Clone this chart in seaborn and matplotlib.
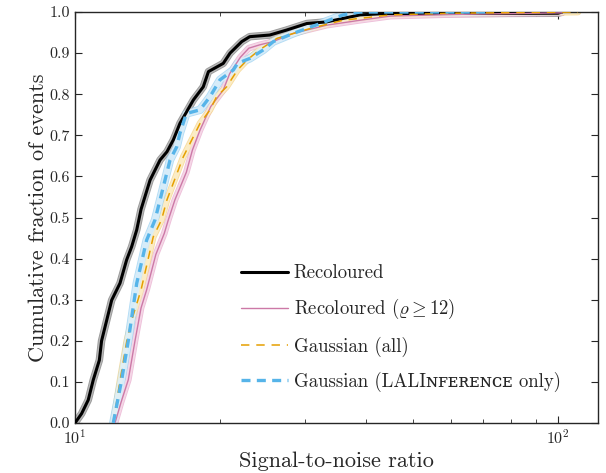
import numpy as np
import pandas as pd
import seaborn as sns
from matplotlib import pyplot as plt
from matplotlib.ticker import FormatStrFormatter, LogLocator, NullFormatter

# curves: SNR and cumulative fraction
snr_rec = [10.0, 10.32, 10.65, 10.91, 11.23, 11.35, 11.63, 11.91, 12.39, 12.79, 13.1, 13.42, 13.7,
           14.3, 15.0, 15.5, 15.98, 16.49, 17.58, 18.43, 18.89, 20.27, 20.94, 22.14, 23.0, 25.3,
           27.4, 30.2, 33.2, 38.9, 43.5, 100.0, 102.0]
cdf_rec = [0.0, 0.023, 0.056, 0.105, 0.153, 0.20, 0.25, 0.299, 0.34, 0.397, 0.429, 0.47, 0.52,
           0.591, 0.64, 0.66, 0.689, 0.729, 0.786, 0.818, 0.855, 0.875, 0.90, 0.928, 0.94, 0.944,
           0.956, 0.972, 0.976, 0.993, 0.996, 0.997, 1.0]

snr_rec12 = [12.1, 12.45, 12.89, 13.31, 13.7, 14.07, 14.7, 15.3, 15.6, 16.1, 17.0, 17.5, 18.15, 19.1,
             20.27, 20.9, 22.0, 22.9, 24.1, 25.7, 28.3, 33.2, 38.9, 45.0, 60.0, 102.0]
cdf_rec12 = [0.0, 0.05, 0.105, 0.20, 0.28, 0.324, 0.41, 0.461, 0.494, 0.543, 0.61, 0.664, 0.713,
             0.77, 0.81, 0.85, 0.89, 0.912, 0.92, 0.928, 0.948, 0.968, 0.98, 0.99, 0.994, 0.998]

snr_gauss = [12.0, 12.4, 12.8, 13.1, 13.7, 14.52, 15.1, 15.5, 16.76, 18.15, 19.03, 19.64, 20.6,
             21.7, 22.7, 24.1, 26.2, 30.7, 35.9, 45.0, 60.0, 110.0]
cdf_gauss = [0.0, 0.105, 0.20, 0.25, 0.324, 0.453, 0.494, 0.543, 0.648, 0.729, 0.762, 0.794, 0.818,
             0.859, 0.883, 0.908, 0.936, 0.96, 0.98, 0.993, 0.997, 1.0]

snr_lali = [12.0, 12.49, 12.89, 13.42, 14.07, 14.64, 15.0, 15.73, 16.24, 16.49, 17.0, 18.15,
            19.03, 19.96, 21.27, 21.7, 23.0, 24.55, 25.74, 28.3, 32.2, 35.9, 38.9, 71.0]
cdf_lali = [0.0, 0.105, 0.20, 0.34, 0.445, 0.494, 0.543, 0.64, 0.672, 0.705, 0.753, 0.762,
            0.794, 0.835, 0.859, 0.875, 0.887, 0.908, 0.928, 0.948, 0.972, 0.993, 1.0, 1.0]

labels = ['Recoloured', r'Recoloured ($\varrho \geq 12$)', 'Gaussian (all)',
          'Gaussian (LALIɴꜰᴇʀᴇɴᴄᴇ only)']

sns.set_style('ticks')
plt.rcParams['font.family'] = ['cmr10', 'DejaVu Serif', 'DejaVu Sans']
plt.rcParams['mathtext.fontset'] = 'cm'
plt.rcParams['axes.formatter.use_mathtext'] = True

fig = plt.figure(figsize=(6.06, 4.73), dpi=100)
ax = fig.add_axes([0.1238, 0.1057, 0.863, 0.8689])

series = [
    (snr_rec, cdf_rec, 'black', '-', 2.2, '#7f7f7f', '#bdbdbd', 5.4),
    (snr_rec12, cdf_rec12, '#CC79A7', '-', 1.0, '#e9b0d0', '#f7dcea', 4.8),
    (snr_gauss, cdf_gauss, '#E69F00', (0, (5.5, 4.5)), 1.1, '#f5d489', '#fcefcc', 4.8),
    (snr_lali, cdf_lali, '#56B4E9', (0, (2.7, 1.9)), 2.4, '#9fd3f2', '#ddf0fb', 6.0),
]

# uncertainty bands first, outlined
for snr, cdf, col, ls, lw, edge, fill, bw in series:
    df = pd.DataFrame({'snr': snr, 'cdf': cdf})
    sns.lineplot(data=df, x='snr', y='cdf', ax=ax, sort=False, estimator=None,
                 color=edge, lw=bw, alpha=0.8, solid_joinstyle='round', zorder=1)
    sns.lineplot(data=df, x='snr', y='cdf', ax=ax, sort=False, estimator=None,
                 color=fill, lw=bw - 1.2, alpha=0.85, solid_joinstyle='round', zorder=1.5)

for (snr, cdf, col, ls, lw, edge, fill, bw), lab in zip(series, labels):
    df = pd.DataFrame({'snr': snr, 'cdf': cdf})
    sns.lineplot(data=df, x='snr', y='cdf', ax=ax, sort=False, estimator=None,
                 color=col, lw=lw, linestyle=ls, label=lab, zorder=3)

ax.set_xscale('log')
ax.set_xlim(10, 121)
ax.set_ylim(0, 1.0)
ax.set_yticks(np.arange(0, 1.01, 0.1))
ax.yaxis.set_major_formatter(FormatStrFormatter('%.1f'))
ax.xaxis.set_minor_locator(LogLocator(base=10, subs=np.arange(2, 10)))
ax.xaxis.set_minor_formatter(NullFormatter())
ax.tick_params(which='both', direction='in', top=True, right=True, labelsize=11.5)
ax.tick_params(which='major', length=5, width=0.8)
ax.tick_params(which='minor', length=3, width=0.6)
for s in ax.spines.values():
    s.set_linewidth(1.0)

ax.set_xlabel('Signal-to-noise ratio', fontsize=16, labelpad=4)
ax.set_ylabel('Cumulative fraction of events', fontsize=16, labelpad=1)

ax.legend(loc='center', bbox_to_anchor=(0.623, 0.231), frameon=False, fontsize=13.5,
          handlelength=2.5, handletextpad=0.3, labelspacing=0.8)

fig.savefig('out.png', dpi=100)
